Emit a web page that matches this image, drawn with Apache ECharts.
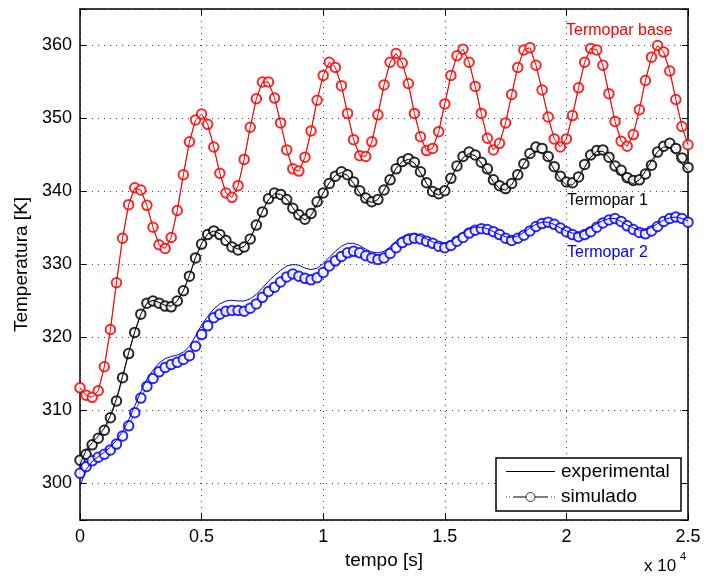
<!DOCTYPE html>
<html><head><meta charset="utf-8">
<script src="https://cdn.jsdelivr.net/npm/echarts@6/dist/echarts.min.js"></script>
<style>html,body{margin:0;padding:0;background:#fff}#c{width:717px;height:576px}</style>
</head><body><div id="c"></div>
<script>
// time grid: one sample every 250 s, from 0 to 25000 s
const timeStep = 250;
const xTicks = [0, 0.5, 1, 1.5, 2, 2.5];
const yTicks = [300, 310, 320, 330, 340, 350, 360];

const termoparBase = [313.1,312.1,311.8,312.7,316.0,321.1,327.5,333.6,338.2,340.5,
340.2,338.1,335.1,332.7,332.2,333.7,337.4,342.3,346.8,349.8,
350.6,349.2,346.1,342.5,339.8,339.2,340.8,344.4,348.8,352.7,
355.0,355.0,352.8,349.4,345.7,343.1,342.8,344.7,348.3,352.5,
355.9,357.7,357.0,354.5,350.7,347.1,344.9,344.8,346.8,350.5,
354.6,357.7,358.9,357.6,354.8,350.7,347.5,345.6,345.9,348.2,
352.0,355.9,358.6,359.5,357.7,354.4,350.7,347.3,345.7,346.6,
349.4,353.3,357.0,359.4,359.7,357.3,353.9,350.2,347.2,346.1,
347.2,350.4,354.2,357.7,359.6,359.4,357.3,353.4,349.6,346.9,
346.2,347.8,351.2,355.2,358.4,360.0,359.1,356.5,352.6,348.9,
346.4];

const termopar1Sim = [303.2,304.0,305.3,306.2,307.3,309.0,311.3,314.5,317.8,320.7,
323.2,324.7,325.0,324.7,324.3,324.2,325.0,326.4,328.4,330.9,
332.8,334.1,334.6,334.1,333.3,332.4,332.0,332.4,333.5,335.4,
337.2,339.0,339.8,339.6,338.9,337.7,336.8,336.2,337.0,338.6,
339.8,341.1,342.1,342.7,342.3,341.3,340.1,339.1,338.6,338.9,
340.2,341.6,343.1,344.1,344.5,344.0,342.7,341.2,340.0,339.7,
340.1,341.8,343.5,344.8,345.4,345.0,344.0,343.1,341.6,340.8,
340.4,341.1,342.3,343.8,345.2,346.1,345.9,344.8,343.4,342.1,
341.3,341.2,342.0,343.7,345.0,345.6,345.7,344.7,343.5,342.9,
341.9,341.5,341.6,342.4,343.6,345.4,346.2,346.6,345.9,344.6,
343.3];

const termopar1Exp = [302.6,304.6,305.6,306.5,307.6,309.3,311.6,314.7,317.9,320.8,
323.2,324.7,325.1,324.8,324.4,324.3,325.0,326.4,328.5,331.0,
332.9,334.2,334.6,334.2,333.4,332.5,332.1,332.5,333.6,335.4,
337.3,338.9,339.7,339.6,339.0,337.8,336.7,336.1,336.7,338.2,
339.8,341.2,342.2,342.6,342.2,341.1,339.8,338.8,338.5,338.9,
340.2,341.8,343.2,344.1,344.4,343.9,342.6,341.1,339.9,339.5,
340.1,341.7,343.4,344.6,345.2,344.9,343.9,342.6,341.3,340.4,
340.2,340.9,342.3,343.8,345.0,345.5,345.3,344.4,343.0,341.7,
340.9,340.9,341.8,343.3,344.7,345.5,345.5,344.7,343.4,342.1,
341.3,341.1,341.6,342.8,344.2,345.5,346.1,346.0,345.1,343.8,
342.9];

const termopar2Sim = [301.4,302.3,303.1,303.6,304.0,304.6,305.4,306.5,307.9,309.7,
311.7,313.3,314.4,315.3,315.9,316.3,316.6,317.0,317.5,318.8,
320.4,321.6,322.7,323.2,323.6,323.7,323.7,323.6,324.0,324.6,
325.5,326.3,326.9,327.6,328.3,328.7,328.4,328.1,327.9,328.2,
328.9,329.8,330.5,331.1,331.6,331.8,331.6,331.2,330.9,330.7,
330.9,331.5,332.3,333.0,333.4,333.6,333.5,333.2,332.9,332.5,
332.3,332.6,333.2,333.7,334.3,334.7,334.9,334.8,334.5,334.1,
333.6,333.3,333.6,334.0,334.6,335.2,335.6,335.8,335.5,335.0,
334.5,334.1,333.8,334.1,334.5,335.1,335.7,336.1,336.3,335.9,
335.3,334.8,334.4,334.2,334.6,335.2,335.9,336.3,336.5,336.3,
335.8];

const termopar2Exp = [299.6,301.9,303.0,303.7,304.3,305.0,305.9,307.1,308.7,310.6,
312.6,314.3,315.5,316.5,317.1,317.4,317.6,318.0,318.8,320.2,
321.7,322.9,323.9,324.6,325.0,325.1,325.0,325.0,325.3,325.9,
326.8,327.7,328.5,329.2,329.8,330.0,329.9,329.5,329.3,329.5,
330.1,331.0,331.8,332.5,332.9,332.9,332.6,332.1,331.7,331.6,
331.8,332.4,333.2,333.8,334.2,334.2,333.9,333.5,333.1,332.9,
332.9,333.2,333.8,334.4,334.9,335.1,335.1,334.9,334.5,334.1,
333.8,333.7,333.9,334.4,335.0,335.5,335.8,335.8,335.5,335.0,
334.6,334.3,334.3,334.6,335.1,335.6,336.0,336.3,336.3,335.9,
335.4,335.0,334.7,334.7,335.1,335.6,336.1,336.4,336.5,336.3,
336.0];

const labels = {base: 'Termopar base', t1: 'Termopar 1', t2: 'Termopar 2'};
const legendNames = ['experimental', 'simulado'];

function pairs(arr) { return arr.map((v, i) => [i * timeStep, v]); }

const FONT = '"Liberation Sans", Arial, Helvetica, sans-serif';
const chart = echarts.init(document.getElementById('c'), null, {renderer: 'canvas'});

function expSeries(data, color) {
  return {type: 'line', name: legendNames[0], data: pairs(data), symbol: 'none',
    lineStyle: {color: color, width: 1}, itemStyle: {color: color}, z: 3, animation: false};
}
function simSeries(data, color) {
  return {type: 'line', name: legendNames[1], data: pairs(data), symbol: 'emptyCircle', symbolSize: 9.5,
    showAllSymbol: true,
    lineStyle: {color: color, width: 0.7}, itemStyle: {color: color, borderColor: color, borderWidth: 0.8, opacity: 0.85},
    z: 2, animation: false};
}

const axisCommon = {
  axisLine: {show: true, onZero: false, lineStyle: {color: '#000', width: 1.5}},
  axisTick: {show: true, inside: true, length: 6, lineStyle: {color: '#000', width: 1}},
};

// legend box (drawn as graphics)
const LG = {x: 496, y: 458, w: 185, h: 53, row1: 471.5, row2: 497};

const option = {
  backgroundColor: '#fff',
  animation: false,
  grid: {left: 80, right: 29, top: 9, bottom: 56, containLabel: false},
  xAxis: [
    Object.assign({type: 'value', min: 0, max: 25000, interval: 5000, position: 'bottom',
      name: 'tempo [s]', nameLocation: 'middle', nameGap: 30,
      nameTextStyle: {fontFamily: FONT, fontSize: 19, color: '#000'},
      axisLabel: {fontFamily: FONT, fontSize: 18, color: '#000', margin: 8,
        formatter: v => String(xTicks[Math.round(v / 5000)])},
      splitLine: {show: true, lineStyle: {color: '#444', width: 1, type: [1, 5]}}}, axisCommon),
    Object.assign({type: 'value', min: 0, max: 25000, interval: 5000, position: 'top',
      axisLabel: {show: false}, splitLine: {show: false}}, axisCommon)
  ],
  yAxis: [
    Object.assign({type: 'value', min: 295, max: 365, splitNumber: 7, position: 'left',
      name: 'Temperatura [K]', nameLocation: 'middle', nameGap: 45,
      nameTextStyle: {fontFamily: FONT, fontSize: 19, color: '#000'},
      axisLabel: {fontFamily: FONT, fontSize: 18, color: '#000', margin: 8,
        formatter: v => (yTicks.indexOf(Math.round(v)) >= 0 && Math.abs(v - Math.round(v)) < 1e-6 ? String(Math.round(v)) : '')},
      splitLine: {show: true, lineStyle: {color: '#444', width: 1, type: [1, 5]}}}, axisCommon),
    Object.assign({type: 'value', min: 295, max: 365, splitNumber: 7, position: 'right',
      axisLabel: {show: false}, splitLine: {show: false}}, axisCommon)
  ],
  series: [
    expSeries(termopar1Exp, '#000000'),
    simSeries(termopar1Sim, '#000000'),
    expSeries(termoparBase, '#ff0000'),
    simSeries(termoparBase, '#ff0000'),
    expSeries(termopar2Exp, '#0000ff'),
    simSeries(termopar2Sim, '#0000ff')
  ],
  graphic: [
    {type: 'text', left: 566, top: 23, style: {text: labels.base, fill: '#ff0000', font: '16px ' + FONT}},
    {type: 'text', left: 567, top: 193, style: {text: labels.t1, fill: '#000', font: '16px ' + FONT}},
    {type: 'text', left: 567, top: 245, style: {text: labels.t2, fill: '#0000ff', font: '16px ' + FONT}},
    {type: 'text', left: 644, top: 558, style: {text: 'x 10', fill: '#000', font: '17px ' + FONT}},
    {type: 'text', left: 680, top: 551, style: {text: '4', fill: '#000', font: '11px ' + FONT}},
    {type: 'group', z: 100, children: [
      {type: 'rect', shape: {x: LG.x, y: LG.y, width: LG.w, height: LG.h},
        style: {fill: '#fff', stroke: '#000', lineWidth: 1.5}, z: 100},
      {type: 'line', shape: {x1: 506, y1: LG.row1, x2: 555, y2: LG.row1},
        style: {stroke: '#000', lineWidth: 1}, z: 101},
      {type: 'text', x: 561, y: LG.row1, style: {text: legendNames[0], fill: '#000', font: '19px ' + FONT, verticalAlign: 'middle'}, z: 101},
      {type: 'line', shape: {x1: 506, y1: LG.row2, x2: 510, y2: LG.row2},
        style: {stroke: '#000', lineWidth: 0.8, lineDash: [1, 2]}, z: 101},
      {type: 'line', shape: {x1: 513, y1: LG.row2, x2: 548, y2: LG.row2},
        style: {stroke: '#000', lineWidth: 1}, z: 101},
      {type: 'line', shape: {x1: 551, y1: LG.row2, x2: 555, y2: LG.row2},
        style: {stroke: '#000', lineWidth: 0.8, lineDash: [1, 2]}, z: 101},
      {type: 'circle', shape: {cx: 530.5, cy: LG.row2, r: 4.5},
        style: {fill: '#fff', stroke: '#000', lineWidth: 0.8}, z: 102},
      {type: 'text', x: 561, y: LG.row2, style: {text: legendNames[1], fill: '#000', font: '19px ' + FONT, verticalAlign: 'middle'}, z: 101}
    ]}
  ]
};
chart.setOption(option);
</script>
</body></html>
